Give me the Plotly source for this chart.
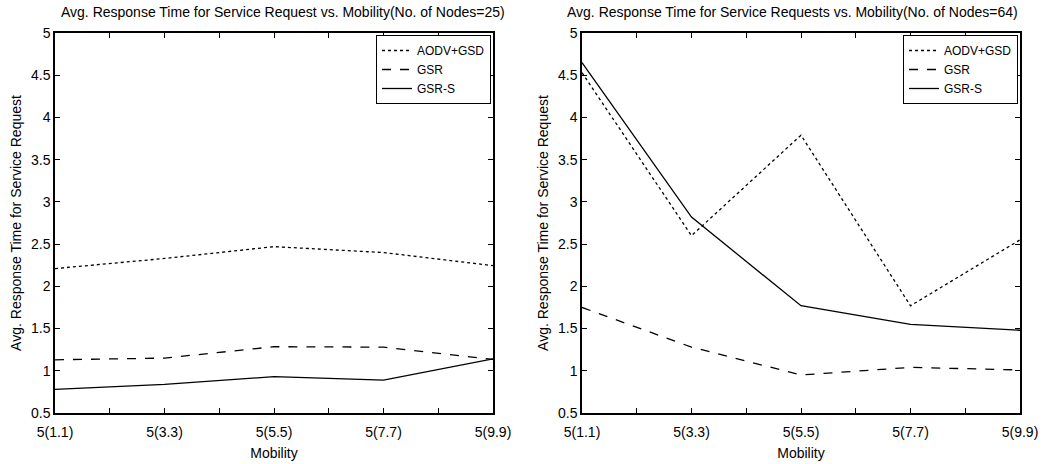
import plotly.graph_objects as go

categories = ["5(1.1)", "5(3.3)", "5(5.5)", "5(7.7)", "5(9.9)"]
series_names = ["AODV+GSD", "GSR", "GSR-S"]

n25_aodv = [2.21, 2.33, 2.47, 2.40, 2.245]
n25_gsr = [1.13, 1.15, 1.285, 1.28, 1.135]
n25_gsrs = [0.78, 0.84, 0.93, 0.89, 1.14]

n64_aodv = [4.53, 2.60, 3.79, 1.77, 2.55]
n64_gsr = [1.75, 1.28, 0.95, 1.04, 1.01]
n64_gsrs = [4.65, 2.82, 1.77, 1.55, 1.48]

title_left = "Avg. Response Time for Service Request vs. Mobility(No. of Nodes=25)"
title_right = "Avg. Response Time for Service Requests vs. Mobility(No. of Nodes=64)"
y_title = "Avg. Response Time for Service Request"
x_title = "Mobility"

dashes = ["dot", "dash", "solid"]
FONT = "Liberation Sans, Arial, Helvetica, sans-serif"

W, H = 1047, 464
left_dom = [55 / W, 493 / W]
right_dom = [582 / W, 1020 / W]
y_dom = [1 - 413 / H, 1 - 33 / H]

xpos = list(range(len(categories)))

fig = go.Figure()
for name, vals, dash in zip(series_names, [n25_aodv, n25_gsr, n25_gsrs], dashes):
    fig.add_trace(go.Scatter(x=xpos, y=vals, mode="lines", name=name,
                             line=dict(color="black", width=1.3, dash=dash),
                             xaxis="x", yaxis="y", legend="legend"))
for name, vals, dash in zip(series_names, [n64_aodv, n64_gsr, n64_gsrs], dashes):
    fig.add_trace(go.Scatter(x=xpos, y=vals, mode="lines", name=name,
                             line=dict(color="black", width=1.3, dash=dash),
                             xaxis="x2", yaxis="y2", legend="legend2"))

def xaxis(dom, anchor):
    return dict(domain=dom, anchor=anchor, range=[0, 4], tickmode="array",
                tickvals=xpos, ticktext=categories, ticks="inside", ticklen=5,
                tickcolor="black", showline=True, linecolor="black", linewidth=1.5,
                mirror="ticks", showgrid=False, zeroline=False, automargin=False,
                ticklabelstandoff=5,
                tickfont=dict(family=FONT, size=14, color="black"),
                minor=dict(dtick=0.5, tick0=0, ticks="inside", ticklen=5, tickcolor="black", showgrid=False),
                title=dict(text=x_title, font=dict(family=FONT, size=14, color="black"), standoff=10))

def yaxis(anchor):
    return dict(domain=y_dom, anchor=anchor, range=[0.5, 5], tickmode="linear", tick0=0.5, dtick=0.5,
                ticks="inside", ticklen=5, tickcolor="black", showline=True, linecolor="black",
                linewidth=1.5, mirror="ticks", showgrid=False, zeroline=False, automargin=False,
                tickfont=dict(family=FONT, size=14, color="black"),
                title=dict(text=y_title, font=dict(family=FONT, size=14, color="black"), standoff=6))

legend_style = dict(bordercolor="black", borderwidth=1, bgcolor="white",
                    font=dict(family=FONT, size=12, color="black"),
                    xanchor="right", yanchor="top", y=1 - 35 / H, tracegroupgap=0,
                    itemwidth=30)

fig.update_layout(
    width=W, height=H, margin=dict(l=0, r=0, t=0, b=0),
    paper_bgcolor="white", plot_bgcolor="white",
    font=dict(family=FONT, size=14, color="black"),
    xaxis=xaxis(left_dom, "y"), yaxis=yaxis("x"),
    xaxis2=xaxis(right_dom, "y2"), yaxis2=yaxis("x2"),
    legend=dict(x=491 / W, **legend_style),
    legend2=dict(x=1018 / W, **legend_style),
    annotations=[
        dict(text=title_left, x=283 / W, y=1 - 12 / H, xref="paper", yref="paper",
             showarrow=False, font=dict(family=FONT, size=14, color="black"), xanchor="center", yanchor="middle"),
        dict(text=title_right, x=792 / W, y=1 - 12 / H, xref="paper", yref="paper",
             showarrow=False, font=dict(family=FONT, size=14, color="black"), xanchor="center", yanchor="middle"),
    ],
)

fig.write_html("out.html")
